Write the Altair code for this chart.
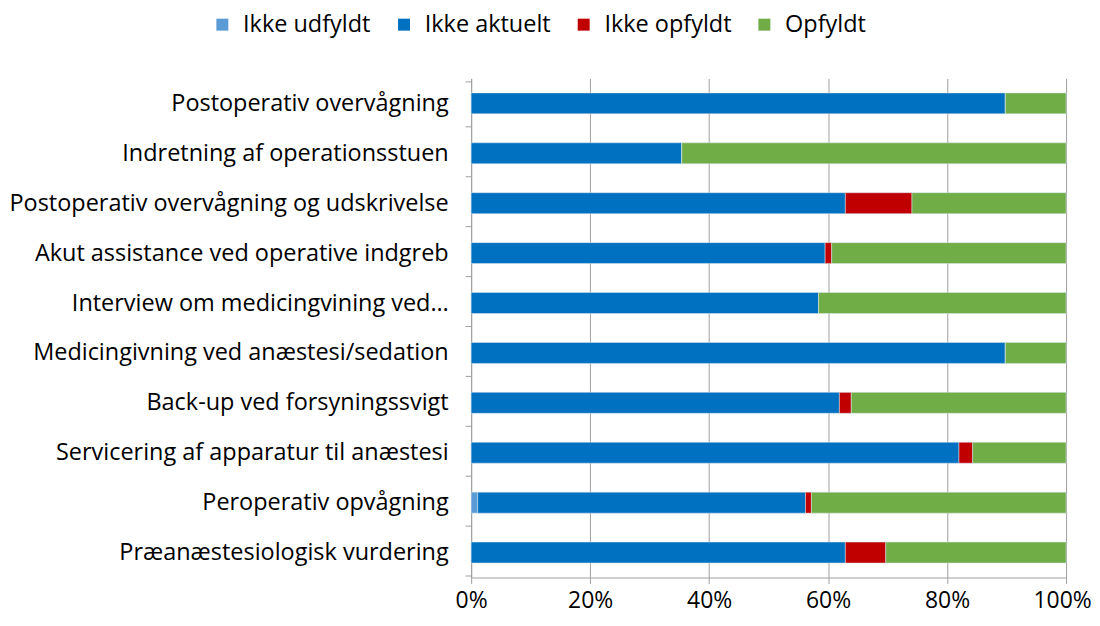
import altair as alt
import pandas as pd

categories = [
    "Postoperativ overvågning",
    "Indretning af operationsstuen",
    "Postoperativ overvågning og udskrivelse",
    "Akut assistance ved operative indgreb",
    "Interview om medicingvining ved…",
    "Medicingivning ved anæstesi/sedation",
    "Back-up ved forsyningssvigt",
    "Servicering af apparatur til anæstesi",
    "Peroperativ opvågning",
    "Præanæstesiologisk vurdering",
]
series = ["Ikke udfyldt", "Ikke aktuelt", "Ikke opfyldt", "Opfyldt"]
colors = ["#5B9BD5", "#0070C0", "#C00000", "#70AD47"]

ikke_udfyldt = [0, 0, 0, 0, 0, 0, 0, 0, 1.1, 0]
ikke_aktuelt = [89.8, 35.4, 62.9, 59.5, 58.4, 89.8, 61.9, 82.0, 55.1, 62.9]
ikke_opfyldt = [0, 0, 11.2, 1.1, 0, 0, 2.0, 2.3, 1.0, 6.8]
opfyldt = [10.2, 64.6, 25.9, 39.4, 41.6, 10.2, 36.1, 15.7, 42.8, 30.3]

rows = []
for si, (name, vals) in enumerate(zip(series, [ikke_udfyldt, ikke_aktuelt, ikke_opfyldt, opfyldt])):
    for c, v in zip(categories, vals):
        rows.append({"Kategori": c, "Serie": name, "Værdi": v, "ord": si})
df = pd.DataFrame(rows)

FONT = "Open Sans"
FS = 23.5
FSX = 23

chart = alt.Chart(df).mark_bar(size=21, stroke="#DDE8F3", strokeWidth=0.5).encode(
    y=alt.Y("Kategori:N", sort=categories, title=None,
            axis=alt.Axis(labelFontSize=FS, labelColor="#000000", labelFont=FONT,
                          domainColor="#A0A0A0", tickColor="#A0A0A0", tickBand="extent",
                          tickSize=6, labelPadding=17, minExtent=462, maxExtent=462,
                          labelLimit=480)),
    x=alt.X("Værdi:Q", stack="normalize", title=None,
            scale=alt.Scale(domain=[0, 1], nice=False),
            axis=alt.Axis(format=".0%", values=[0, 0.2, 0.4, 0.6, 0.8, 1.0],
                          grid=True, gridColor="#A0A0A0", domainColor="#A0A0A0",
                          tickColor="#A0A0A0", tickSize=6, labelPadding=6,
                          labelFlush=False,
                          labelOffset={"condition": {"test": "datum.value >= 1", "value": -4},
                                       "value": 0},
                          labelFontSize=FSX, labelColor="#000000", labelFont=FONT)),
    color=alt.Color("Serie:N", sort=series,
                    scale=alt.Scale(domain=series, range=colors),
                    legend=alt.Legend(orient="none", legendX=-261, legendY=-66,
                                      direction="horizontal", title=None,
                                      symbolType="square", symbolSize=144,
                                      symbolStrokeWidth=0, labelFontSize=FS,
                                      labelFont=FONT, labelColor="#000000",
                                      labelOffset=9, columnPadding=21)),
    order=alt.Order("ord:Q"),
).properties(
    width=596, height=500, background="white",
    padding={"top": 4, "left": 0, "right": 0, "bottom": 0}
).configure_view(stroke=None)

chart.save("out.html", embed_options={"renderer": "svg", "actions": False})
